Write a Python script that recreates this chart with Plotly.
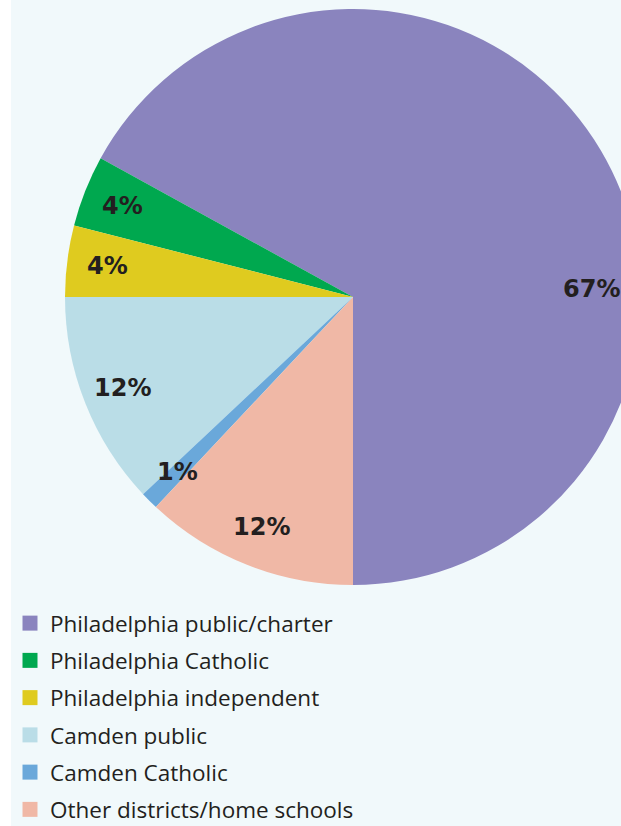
import math
import plotly.graph_objects as go

# ---- data ----
categories = [
    "Philadelphia public/charter",
    "Philadelphia Catholic",
    "Philadelphia independent",
    "Camden public",
    "Camden Catholic",
    "Other districts/home schools",
]
shares = [67, 4, 4, 12, 1, 12]
colors = ["#8a84be", "#00a84f", "#dfcb1f", "#badde7", "#6aa8da", "#f0b8a6"]

# ---- layout constants (pixels) ----
W, H = 660, 826
CX, CY, R = 353, 297, 288
LABEL_RF = 0.86
LABEL_RF_LARGEST = 0.83
BG = "#f1f9fb"
TXT = "#231f20"

total = sum(shares)
# the first slice ends at 6 o'clock; slices then run counterclockwise
rotation = 180 - shares[0] / total * 360

fig = go.Figure()
fig.add_trace(go.Pie(
    labels=categories,
    values=shares,
    sort=False,
    direction="counterclockwise",
    rotation=rotation,
    marker=dict(colors=colors, line=dict(width=0)),
    textinfo="none",
    hoverinfo="skip",
    showlegend=False,
    domain=dict(x=[(CX - R) / W, (CX + R) / W], y=[1 - (CY + R) / H, 1 - (CY - R) / H]),
))

# legend entries
for i, (name, col) in enumerate(zip(categories, colors)):
    fig.add_trace(go.Scatter(
        x=[None], y=[None], mode="markers", name=name,
        marker=dict(symbol="square", size=15, color=col),
        legendgroup=f"g{i}", showlegend=True, hoverinfo="skip",
    ))

# percentage labels, positioned from cumulative angles (clockwise from north)
cum = 0
largest = shares.index(max(shares))
annotations = []
for i, v in enumerate(shares):
    a0 = 180 - cum / total * 360
    a1 = a0 - v / total * 360
    mid = (a0 + a1) / 2
    rf = LABEL_RF
    if i == largest:
        mid = 88
        rf = LABEL_RF_LARGEST
    cum += v
    px = CX + rf * R * math.sin(math.radians(mid))
    py = CY - rf * R * math.cos(math.radians(mid))
    annotations.append(dict(
        x=px / W, y=1 - py / H, xref="paper", yref="paper",
        xanchor="center", yanchor="middle",
        text=f"{v}%", showarrow=False,
        font=dict(family="DejaVu Sans", size=24, color=TXT, weight="bold"),
    ))

fig.update_layout(
    width=W, height=H,
    margin=dict(l=0, r=0, t=0, b=0, autoexpand=False),
    paper_bgcolor=BG, plot_bgcolor="rgba(0,0,0,0)",
    xaxis=dict(visible=False), yaxis=dict(visible=False),
    annotations=annotations,
    shapes=[dict(type="rect", xref="paper", yref="paper", x0=0, x1=11 / W, y0=0, y1=1,
                 fillcolor="white", line=dict(width=0), layer="below")],
    showlegend=True,
    legend=dict(
        x=10 / W, y=1 - 602 / H, xanchor="left", yanchor="top",
        font=dict(family="Open Sans", size=22.5, color=TXT),
        tracegroupgap=5, bgcolor="rgba(0,0,0,0)",
    ),
)

fig.write_html(
    "out.html",
    config={"displayModeBar": False},
    post_script="document.body.style.margin='0';document.body.style.overflow='hidden';"
                "document.documentElement.style.overflow='hidden';",
)
